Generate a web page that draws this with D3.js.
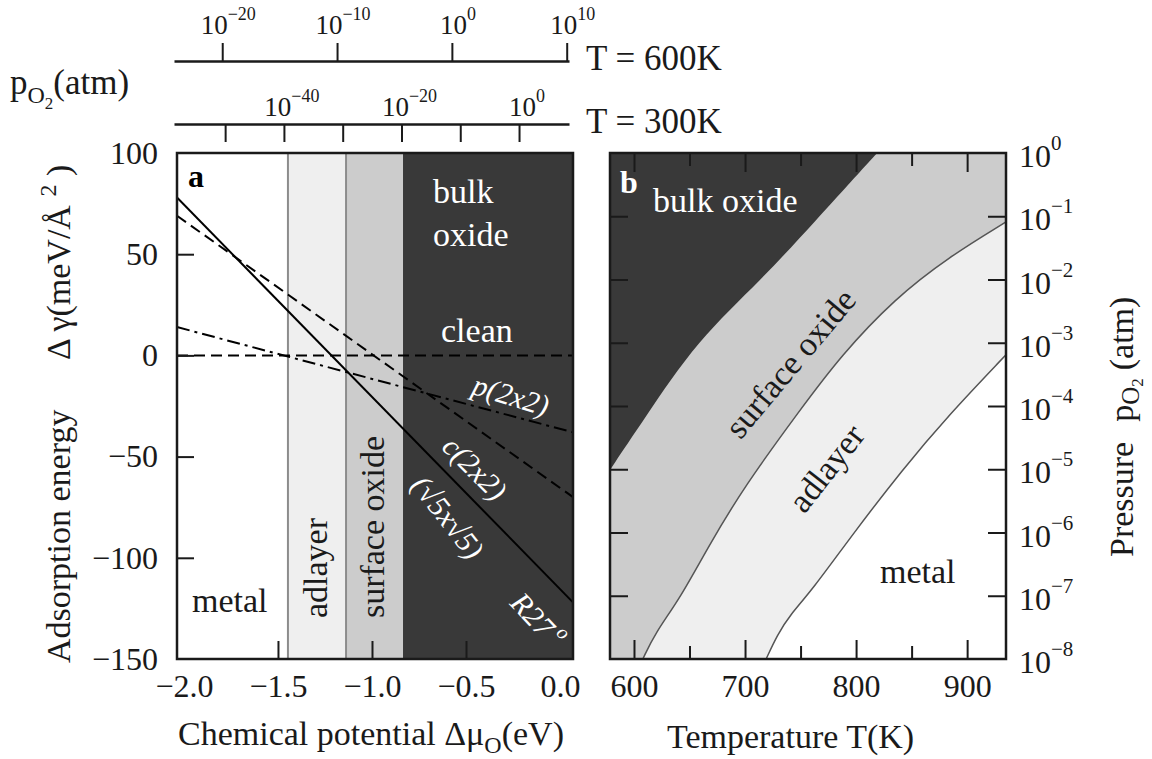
<!DOCTYPE html>
<html>
<head>
<meta charset="utf-8">
<script src="https://cdn.jsdelivr.net/npm/d3@7"></script>
<style>
  body { margin: 0; background: #fff; }
  svg { font-family: "Liberation Serif", "Times New Roman", serif; }
</style>
</head>
<body>
<svg width="1152" height="759"></svg>
<script>
// ---- panel a data ----
var muTicks = [-2.0, -1.5, -1.0, -0.5, 0.0];
var muInnerTicks = [-1.5, -1.0, -0.5];
var gammaTicks = [100, 50, 0, -50, -100, -150];
var gammaInnerTicks = [50, 0, -50, -100];
var phaseEdges = [-2.037, -1.447, -1.138, -0.835, 0.069];   // metal | adlayer | surface oxide | bulk oxide
var phaseFill = ["#ffffff", "#efefef", "#cccccc", "#393939"];
var lineMu = [-2.037, 0.069];
var cleanGamma = [0, 0];
var p2x2Gamma = [14, -38];
var c2x2Gamma = [69, -70];
var sqrt5Gamma = [78, -122];

// ---- panel b data (T in K, log10 pO2 in atm) ----
var tempTicks = [600, 700, 800, 900];
var tempMinor = [650, 750, 850];
var pExp = [0, -1, -2, -3, -4, -5, -6, -7, -8];
var bulkT = [578.4, 609, 657, 715, 762, 819];
var bulkP = [-5.01, -4.21, -2.96, -2.0, -1.1, 0];
var adlayerT = [608, 619, 641.5, 666.7, 699, 749.6, 786.5, 835, 883, 935];
var adlayerP = [-8, -7.59, -7.04, -6.23, -5.28, -4.06, -3.2, -2.3, -1.65, -1.09];
var metalT = [719, 729, 740.6, 760.4, 796.4, 841.5, 883, 935];
var metalP = [-8, -7.62, -7.3, -6.91, -6.04, -5.01, -4.15, -3.19];

// ---- top pressure scales ----
var p600Ticks = [-20, -10, 0, 10];
var p300Ticks = [-50, -40, -30, -20, -10, 0];
var p300Labels = [-40, -20, 0];

var svg = d3.select("svg");
var ink = "#1a1a1a";

var xA = d3.scaleLinear().domain([-2.037, 0.069]).range([177, 573]);
var yA = d3.scaleLinear().domain([-150, 100]).range([659, 153]);
var xB = d3.scaleLinear().domain([578.4, 935]).range([610, 1006]);
var yB = d3.scaleLog().domain([1e-8, 1]).range([659, 153]);
var x600 = d3.scaleLinear().domain([-24.2, 10.2]).range([174, 569]);
var x300 = d3.scaleLinear().domain([-58.7, 8.5]).range([174, 569]);

function sup10(sel, e, size, sub) {
  sel.append("tspan").text("10");
  sel.append("tspan").attr("dy", -sub).attr("font-size", size)
    .text(e < 0 ? "\u2212" + Math.abs(e) : String(e));
}
function tidy(g) {
  g.attr("font-family", null).attr("font-size", null);
  g.selectAll(".tick line").attr("stroke", ink).attr("stroke-width", 2);
  g.selectAll(".tick text").attr("fill", ink).attr("font-size", 32);
}

// ================= top pressure axes =================
var g600 = svg.append("g").attr("transform", "translate(0,61)")
  .call(d3.axisTop(x600).tickValues(p600Ticks).tickSize(18).tickSizeOuter(0).tickFormat(""));
tidy(g600);
g600.select(".domain").attr("stroke", ink).attr("stroke-width", 2.5);
p600Ticks.forEach(function (e) {
  svg.append("text").attr("x", x600(e) + 6).attr("y", 34).attr("text-anchor", "middle")
    .attr("font-size", 27).attr("fill", ink).call(sup10, e, 18, 14);
});

var g300 = svg.append("g").attr("transform", "translate(0,124)")
  .call(d3.axisBottom(x300).tickValues(p300Ticks).tickSize(18).tickSizeOuter(0).tickFormat(""));
tidy(g300);
g300.select(".domain").attr("stroke", ink).attr("stroke-width", 2.5);
p300Labels.forEach(function (e) {
  svg.append("text").attr("x", x300(e) + 8).attr("y", 116).attr("text-anchor", "middle")
    .attr("font-size", 27).attr("fill", ink).call(sup10, e, 18, 14);
});

svg.append("text").attr("x", 586).attr("y", 70).attr("font-size", 35).attr("fill", ink).text("T = 600K");
svg.append("text").attr("x", 586).attr("y", 133).attr("font-size", 35).attr("fill", ink).text("T = 300K");
var pl = svg.append("text").attr("x", 10).attr("y", 94).attr("font-size", 35).attr("fill", ink);
pl.append("tspan").text("p");
pl.append("tspan").attr("dy", 9).attr("font-size", 24).text("O");
pl.append("tspan").attr("dy", 6).attr("font-size", 17).text("2");
pl.append("tspan").attr("dy", -15).text("(atm)");

// ================= panel a =================
var ga = svg.append("g");
ga.selectAll("rect.phase").data(phaseFill).enter().append("rect")
  .attr("class", "phase")
  .attr("x", function (d, i) { return xA(phaseEdges[i]); })
  .attr("y", yA(100))
  .attr("width", function (d, i) { return xA(phaseEdges[i + 1]) - xA(phaseEdges[i]); })
  .attr("height", yA(-150) - yA(100))
  .attr("fill", function (d) { return d; });
ga.selectAll("line.edge").data(phaseEdges.slice(1, 3)).enter().append("line")
  .attr("x1", xA).attr("x2", xA).attr("y1", yA(100)).attr("y2", yA(-150))
  .attr("stroke", "#8c8c8c").attr("stroke-width", 2);

var lineA = d3.line().x(function (d, i) { return xA(lineMu[i]); }).y(function (d) { return yA(d); });
var curves = [
  {v: cleanGamma, dash: "11,6"},
  {v: p2x2Gamma, dash: "13,5,3,5"},
  {v: c2x2Gamma, dash: "11,6"},
  {v: sqrt5Gamma, dash: null}
];
curves.forEach(function (c) {
  ga.append("path").attr("d", lineA(c.v)).attr("fill", "none")
    .attr("stroke", "#000").attr("stroke-width", 2)
    .attr("stroke-dasharray", c.dash);
});

// axes of panel a
var ayl = ga.append("g").attr("transform", "translate(177,0)")
  .call(d3.axisLeft(yA).tickValues(gammaTicks).tickSize(0).tickPadding(19).tickFormat(d3.format("d")));
tidy(ayl); ayl.select(".domain").remove();
var ayt = ga.append("g").attr("transform", "translate(177,0)")
  .call(d3.axisLeft(yA).tickValues(gammaInnerTicks).tickSize(-17).tickFormat(""));
tidy(ayt); ayt.select(".domain").remove();
var axl = ga.append("g").attr("transform", "translate(0,659)")
  .call(d3.axisBottom(xA).tickValues(muTicks).tickSize(0).tickPadding(15).tickFormat(d3.format(".1f")));
tidy(axl); axl.select(".domain").remove();
var axt = ga.append("g").attr("transform", "translate(0,659)")
  .call(d3.axisBottom(xA).tickValues(muInnerTicks).tickSize(-18).tickFormat(""));
tidy(axt); axt.select(".domain").remove();

ga.append("rect").attr("x", 177).attr("y", 153).attr("width", 396).attr("height", 506)
  .attr("fill", "none").attr("stroke", ink).attr("stroke-width", 2.5);

// labels of panel a
ga.append("text").attr("x", 188).attr("y", 187).attr("font-size", 32).attr("font-weight", "bold").text("a");
ga.append("text").attr("x", 433).attr("y", 203).attr("font-size", 34).attr("fill", "#fff").text("bulk");
ga.append("text").attr("x", 433).attr("y", 246).attr("font-size", 34).attr("fill", "#fff").text("oxide");
ga.append("text").attr("x", 441).attr("y", 342).attr("font-size", 34).attr("fill", "#fff").text("clean");
ga.append("text").attr("x", 192).attr("y", 612).attr("font-size", 34).attr("fill", ink).text("metal");
ga.append("text").attr("transform", "translate(327,568) rotate(-90)").attr("text-anchor", "middle")
  .attr("font-size", 34).attr("fill", ink).text("adlayer");
ga.append("text").attr("transform", "translate(384,527) rotate(-90)").attr("text-anchor", "middle")
  .attr("font-size", 34).attr("fill", ink).text("surface oxide");

function slanted(x, y, ang, txt) {
  return ga.append("text").attr("transform", "translate(" + x + "," + y + ") rotate(" + ang + ")")
    .attr("text-anchor", "middle").attr("dy", "0.35em").attr("font-size", 30)
    .attr("font-style", "italic").attr("fill", "#fff").text(txt);
}
slanted(511, 395, 17, "p(2x2)");
slanted(475, 468, 45, "c(2x2)");
slanted(448, 517, 52, "(\u221A5x\u221A5)");
var r27 = slanted(538, 620, 47, "R27");
r27.append("tspan").attr("dy", -14).attr("font-size", 20).text(" o");

// axis titles of panel a
svg.append("text").attr("transform", "translate(70,663) rotate(-90)").attr("font-size", 34).attr("fill", ink)
  .text("Adsorption energy");
var dg = svg.append("text").attr("transform", "translate(70,360) rotate(-90)").attr("font-size", 34).attr("fill", ink);
dg.append("tspan").text("\u0394 \u03B3(meV/\u00C5 ");
dg.append("tspan").attr("dy", -14).attr("font-size", 24).text("2");
dg.append("tspan").attr("dy", 14).text(" )");

var cp = svg.append("text").attr("x", 178).attr("y", 745).attr("font-size", 34).attr("fill", ink);
cp.append("tspan").text("Chemical potential \u0394\u03BC");
cp.append("tspan").attr("dy", 8).attr("font-size", 24).text("O");
cp.append("tspan").attr("dy", -8).text("(eV)");

// ================= panel b =================
var gb = svg.append("g");
gb.append("rect").attr("x", 610).attr("y", 153).attr("width", 396).attr("height", 506).attr("fill", "#cccccc");

function pts(T, P) { return T.map(function (t, i) { return [xB(t), yB(Math.pow(10, P[i]))]; }); }
var bPts = pts(bulkT, bulkP);
var aPts = pts(adlayerT, adlayerP);
var mPts = pts(metalT, metalP);
var curve = d3.line().curve(d3.curveBasis);

// fills: below adlayer boundary, below metal boundary, above bulk boundary
gb.append("path").attr("fill", "#efefef")
  .attr("d", curve(aPts) + "L" + xB(935) + "," + yB(1e-8) + "Z");
gb.append("path").attr("fill", "#ffffff")
  .attr("d", curve(mPts) + "L" + xB(935) + "," + yB(1e-8) + "Z");
gb.append("path").attr("fill", "#393939")
  .attr("d", curve(bPts) + "L" + xB(578.4) + "," + yB(1) + "Z");
gb.append("path").attr("d", curve(aPts)).attr("fill", "none").attr("stroke", "#555").attr("stroke-width", 1.5);
gb.append("path").attr("d", curve(mPts)).attr("fill", "none").attr("stroke", "#555").attr("stroke-width", 1.5);

var bxl = gb.append("g").attr("transform", "translate(0,659)")
  .call(d3.axisBottom(xB).tickValues(tempTicks).tickSize(-19).tickPadding(15).tickFormat(d3.format("d")));
tidy(bxl); bxl.select(".domain").remove();
var bxm = gb.append("g").attr("transform", "translate(0,659)")
  .call(d3.axisBottom(xB).tickValues(tempMinor).tickSize(-13).tickFormat(""));
tidy(bxm); bxm.select(".domain").remove();
var btl = gb.append("g").attr("transform", "translate(0,153)")
  .call(d3.axisTop(xB).tickValues(tempTicks).tickSize(-19).tickFormat(""));
tidy(btl); btl.select(".domain").remove();
var btm = gb.append("g").attr("transform", "translate(0,153)")
  .call(d3.axisTop(xB).tickValues(tempMinor).tickSize(-13).tickFormat(""));
tidy(btm); btm.select(".domain").remove();
var pInner = pExp.slice(1, 8).map(function (e) { return Math.pow(10, e); });
var byl = gb.append("g").attr("transform", "translate(610,0)")
  .call(d3.axisLeft(yB).tickValues(pInner).tickSize(-18).tickFormat(""));
tidy(byl); byl.select(".domain").remove();
var byr = gb.append("g").attr("transform", "translate(1006,0)")
  .call(d3.axisRight(yB).tickValues(pInner).tickSize(-18).tickFormat(""));
tidy(byr); byr.select(".domain").remove();

pExp.forEach(function (e) {
  svg.append("text").attr("x", 1019).attr("y", yB(Math.pow(10, e)) + 14)
    .attr("font-size", 32).attr("fill", ink).call(sup10, e, 21, 17);
});

gb.append("rect").attr("x", 610).attr("y", 153).attr("width", 396).attr("height", 506)
  .attr("fill", "none").attr("stroke", ink).attr("stroke-width", 2.5);

gb.append("text").attr("x", 620).attr("y", 193).attr("font-size", 32).attr("font-weight", "bold")
  .attr("fill", "#fff").text("b");
gb.append("text").attr("x", 653).attr("y", 212).attr("font-size", 34).attr("fill", "#fff").text("bulk oxide");
gb.append("text").attr("transform", "translate(790,363) rotate(-50)").attr("text-anchor", "middle")
  .attr("dy", "0.35em").attr("font-size", 34).attr("fill", ink).text("surface oxide");
gb.append("text").attr("transform", "translate(826,468) rotate(-52)").attr("text-anchor", "middle")
  .attr("dy", "0.35em").attr("font-size", 34).attr("fill", ink).text("adlayer");
gb.append("text").attr("x", 880).attr("y", 583).attr("font-size", 34).attr("fill", ink).text("metal");

svg.append("text").attr("x", 667).attr("y", 748).attr("font-size", 34).attr("fill", ink).text("Temperature T(K)");

var pr = svg.append("text").attr("transform", "translate(1133,557) rotate(-90)").attr("font-size", 34).attr("fill", ink);
pr.append("tspan").text("Pressure");
pr.append("tspan").attr("dx", 20).text("p");
pr.append("tspan").attr("dy", 6).attr("font-size", 25).text("O");
pr.append("tspan").attr("dy", 4).attr("font-size", 17).text("2");
pr.append("tspan").attr("dy", -10).attr("dx", 8).text("(atm)");
</script>
</body>
</html>
